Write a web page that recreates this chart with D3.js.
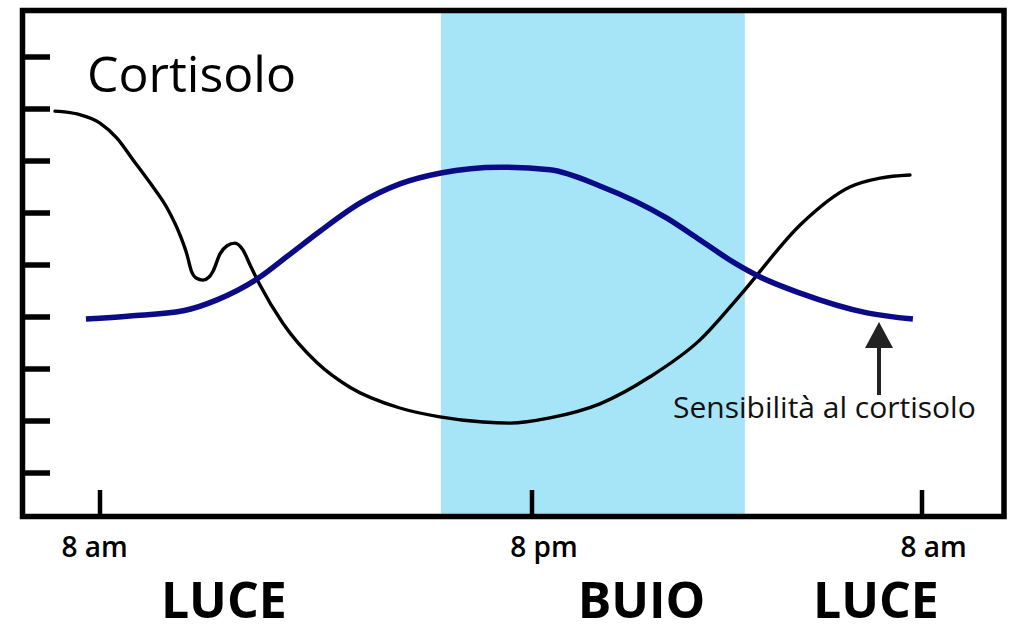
<!DOCTYPE html>
<html><head><meta charset="utf-8">
<script src="https://cdn.jsdelivr.net/npm/d3@7"></script>
<style>html,body{margin:0;padding:0;background:#fff;}svg{display:block;}</style>
</head><body>
<svg id="chart" width="1024" height="641"></svg>
<script>
// ---- data ----
// hours after 8 am (0 = 8 am, 12 = 8 pm, 24 = 8 am next day)
const cortisolHours = [-1.25,-0.61,0,0.47,0.92,1.39,1.86,2.22,2.42,2.53,2.67,2.86,3.03,3.14,3.33,3.53,3.75,3.97,4.17,4.44,5.08,6.03,6.94,8.33,9.44,10.64,11.4,12.55,14.09,15.63,17.17,18.49,20.25,21.78,22.71,23.63];
const cortisolValues = [7.96,7.90,7.73,7.44,7.02,6.58,6.10,5.58,5.19,4.90,4.75,4.71,4.77,4.88,5.21,5.37,5.42,5.29,5.00,4.62,3.88,3.12,2.65,2.25,2.08,1.98,1.96,2.06,2.33,2.85,3.56,4.48,5.77,6.50,6.67,6.73];
const sensitivityHours = [-0.39,0.83,2.31,3.25,4.36,5.28,6.11,7.22,8.33,9.47,11.11,12.55,14.09,16.15,17.17,18.18,19.02,20.25,22.31,23.72];
const sensitivityValues = [3.96,4.02,4.12,4.33,4.73,5.21,5.65,6.19,6.56,6.77,6.88,6.83,6.52,5.90,5.48,5.06,4.77,4.46,4.08,3.96];
const darkStart = 9.47, darkEnd = 18.55;
const xTickValues = [0, 12, 24];
const xTickLabels = ["8 am", "8 pm", "8 am"];
const yTickValues = [1,2,3,4,5,6,7,8,9];
const phaseLabels = ["LUCE", "BUIO", "LUCE"];
const phaseHours = [3.44, 15.37, 22.58];
const titleText = "Cortisolo";
const seriesLabel = "Sensibilità al cortisolo";

// ---- layout ----
const svg = d3.select("#chart");
const frame = {left: 22.5, top: 10.5, right: 1004, bottom: 516.5};
const x = d3.scaleLinear().domain([0, 12, 24]).range([100, 532, 922]);
const y = d3.scaleLinear().domain([1, 9]).range([473, 57]);

// dark band
svg.append("rect")
  .attr("x", x(darkStart)).attr("y", frame.top)
  .attr("width", x(darkEnd) - x(darkStart)).attr("height", frame.bottom - frame.top)
  .attr("fill", "#a6e5f7");

// left ticks
svg.append("g").selectAll("line").data(yTickValues).join("line")
  .attr("x1", frame.left).attr("x2", 50)
  .attr("y1", d => y(d)).attr("y2", d => y(d))
  .attr("stroke", "#000").attr("stroke-width", 5.5);

// bottom ticks
svg.append("g").selectAll("line").data(xTickValues).join("line")
  .attr("x1", d => x(d)).attr("x2", d => x(d))
  .attr("y1", 490).attr("y2", frame.bottom)
  .attr("stroke", "#000").attr("stroke-width", 4.5);

// frame
svg.append("rect")
  .attr("x", frame.left).attr("y", frame.top)
  .attr("width", frame.right - frame.left).attr("height", frame.bottom - frame.top)
  .attr("fill", "none").attr("stroke", "#000").attr("stroke-width", 5.5);

const line = d3.line().x(d => x(d[0])).y(d => y(d[1])).curve(d3.curveMonotoneX);

// cortisol curve
svg.append("path")
  .attr("d", line(cortisolHours.map((h, i) => [h, cortisolValues[i]])))
  .attr("fill", "none").attr("stroke", "#000").attr("stroke-width", 3.4)
  .attr("stroke-linecap", "round").attr("stroke-linejoin", "round");

// sensitivity curve
svg.append("path")
  .attr("d", line(sensitivityHours.map((h, i) => [h, sensitivityValues[i]])))
  .attr("fill", "none").attr("stroke", "#0b0b87").attr("stroke-width", 5.5);

// title
svg.append("text").attr("x", 87).attr("y", 92)
  .attr("font-family", "'Open Sans', sans-serif").attr("font-size", 50)
  .attr("fill", "#000").text(titleText);

// arrow
svg.append("line").attr("x1", 879).attr("x2", 879).attr("y1", 395).attr("y2", 344)
  .attr("stroke", "#222").attr("stroke-width", 4);
svg.append("path").attr("d", "M879,322 L865,348 L893,348 Z").attr("fill", "#222");

// series label
svg.append("text").attr("x", 673).attr("y", 418)
  .attr("font-family", "'Open Sans', sans-serif").attr("font-size", 30)
  .attr("fill", "#111").text(seriesLabel);

// tick labels
const tickLabelOffsets = [-5.5, 12, 11.5];
svg.append("g").selectAll("text").data(xTickValues).join("text")
  .attr("x", (d, i) => x(d) + tickLabelOffsets[i]).attr("y", 557)
  .attr("text-anchor", "middle")
  .attr("font-family", "'Open Sans', sans-serif").attr("font-size", 28).attr("font-weight", 600)
  .attr("fill", "#000").text((d, i) => xTickLabels[i]);

// phase labels
svg.append("g").selectAll("text").data(phaseHours).join("text")
  .attr("x", d => x(d)).attr("y", 618)
  .attr("text-anchor", "middle")
  .attr("font-family", "'Open Sans', sans-serif").attr("font-size", 50).attr("font-weight", 700)
  .attr("fill", "#000").text((d, i) => phaseLabels[i]);
</script>
</body></html>
